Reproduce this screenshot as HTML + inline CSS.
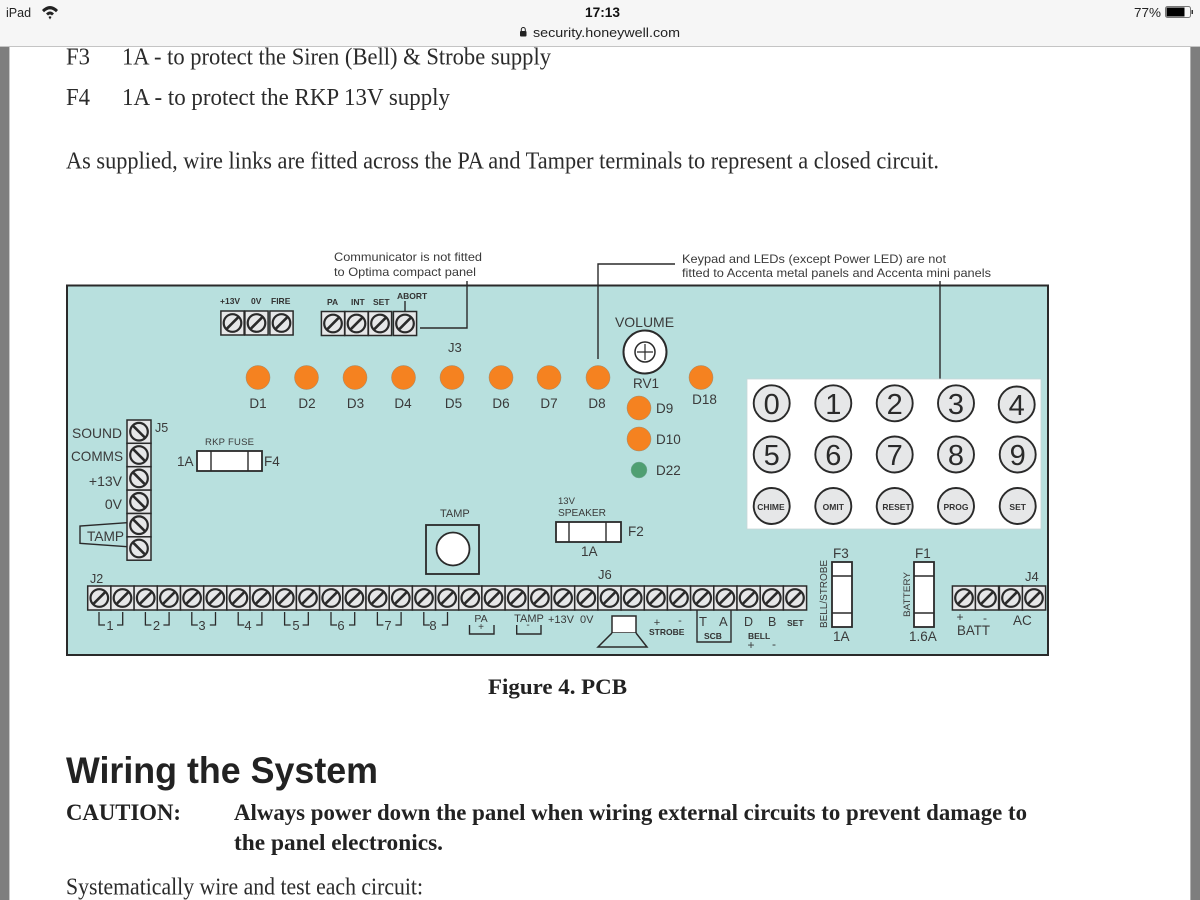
<!DOCTYPE html>
<html><head><meta charset="utf-8"><style>
html,body{margin:0;padding:0;background:#fff;width:1200px;height:900px;overflow:hidden}
svg{display:block}
text{font-family:"Liberation Sans",sans-serif;fill:#3a3a3a}
.s{font-family:"Liberation Serif",serif;fill:#2b2b2b;font-size:24px}
.b{font-family:"Liberation Serif",serif;fill:#222;font-size:23.5px;font-weight:bold}
.t{font-weight:bold;font-size:8.5px;fill:#333}
.k{font-size:29px;text-anchor:middle;fill:#2a2a2a}
.kb{font-size:8.5px;font-weight:bold;text-anchor:middle;fill:#333}
.m{text-anchor:middle}
.l{fill:none;stroke:#2a2a2a;stroke-width:1.4}
</style></head><body>
<svg width="1200" height="900" viewBox="0 0 1200 900" xmlns="http://www.w3.org/2000/svg">
<defs>
<g id="a"><rect x="-11.6" y="-12" width="23.2" height="24" fill="#e6e7e8" stroke="#2a2a2a" stroke-width="1.5"/><circle r="8.8" fill="#e6e7e8" stroke="#2a2a2a" stroke-width="2.2"/><line x1="-5.8" y1="5.8" x2="5.8" y2="-5.8" stroke="#2a2a2a" stroke-width="2.6"/></g>
<g id="c"><rect x="-12" y="-11.7" width="24" height="23.4" fill="#e6e7e8" stroke="#2a2a2a" stroke-width="1.5"/><circle r="8.8" fill="#e6e7e8" stroke="#2a2a2a" stroke-width="2.2"/><line x1="-5.8" y1="-5.8" x2="5.8" y2="5.8" stroke="#2a2a2a" stroke-width="2.6"/></g>
<circle id="o" r="12" fill="#f58220" stroke="#9a8a70" stroke-width=".5"/>
<circle id="key" r="18" fill="#e6e7e8" stroke="#2a2a2a" stroke-width="1.9"/>
<path id="br" d="M99 612V625H105M122.700 612V625H117" fill="none" stroke="#2a2a2a" stroke-width="1.300"/>
</defs>
<rect width="1200" height="900" fill="#fff"/>
<rect x="0" y="46" width="9" height="854" fill="#7e7e7e"/><rect x="9" y="46" width="1" height="854" fill="#c8c8c8"/>
<rect x="1191" y="46" width="9" height="854" fill="#7e7e7e"/><rect x="1190" y="46" width="1" height="854" fill="#b0b0b0"/>
<rect width="1200" height="46" fill="#f6f6f6"/><rect y="46" width="1200" height="1" fill="#c4c4c4"/>
<text x="6" y="17" font-size="12.500" style="fill:#222">iPad</text>
<path d="M42 10Q50 2 58 10L56 12.200Q50 6.500 44 12.200ZM46 13.500Q50 9.500 54 13.500L52 15.500Q50 13.500 48 15.500ZM50 19.500L48.500 17Q50 15.500 51.500 17Z" fill="#222"/>
<text x="585" y="17" font-size="13.500" font-weight="bold" textLength="35" lengthAdjust="spacingAndGlyphs" style="fill:#111">17:13</text>
<rect x="520" y="31" width="6.500" height="5.500" rx="1" fill="#222"/><path d="M521.300 31V29.500a2 2 0 0 1 4 0V31" fill="none" stroke="#222" stroke-width="1"/>
<text x="533" y="37" font-size="13" textLength="147" lengthAdjust="spacingAndGlyphs" style="fill:#222">security.honeywell.com</text>
<text x="1134" y="17" font-size="13" textLength="27" lengthAdjust="spacingAndGlyphs" style="fill:#222">77%</text>
<rect x="1165.500" y="6.500" width="25" height="11" rx="2" fill="none" stroke="#777"/><rect x="1166.500" y="7.500" width="18" height="9" fill="#000"/><rect x="1191.500" y="10" width="1.500" height="4" fill="#333"/>

<text class="s" x="66" y="64.500" textLength="24" lengthAdjust="spacingAndGlyphs">F3</text>
<text class="s" x="122" y="64.500" textLength="429" lengthAdjust="spacingAndGlyphs">1A - to protect the Siren (Bell) &amp; Strobe supply</text>
<text class="s" x="66" y="105" textLength="24" lengthAdjust="spacingAndGlyphs">F4</text>
<text class="s" x="122" y="105" textLength="328" lengthAdjust="spacingAndGlyphs">1A - to protect the RKP 13V supply</text>
<text class="s" x="66" y="168.500" textLength="873" lengthAdjust="spacingAndGlyphs">As supplied, wire links are fitted across the PA and Tamper terminals to represent a closed circuit.</text>

<text x="334" y="261" font-size="12" textLength="148" lengthAdjust="spacingAndGlyphs">Communicator is not fitted</text>
<text x="334" y="276" font-size="12" textLength="142" lengthAdjust="spacingAndGlyphs">to Optima compact panel</text>
<text x="682" y="263" font-size="12" textLength="264" lengthAdjust="spacingAndGlyphs">Keypad and LEDs (except Power LED) are not</text>
<text x="682" y="277" font-size="12" textLength="309" lengthAdjust="spacingAndGlyphs">fitted to Accenta metal panels and Accenta mini panels</text>

<rect x="67" y="285.500" width="981" height="369.500" fill="#b8e0de" stroke="#2a2a2a" stroke-width="2"/>

<path class="l" d="M467 281V328H420M675 264H598V359M940 281V383"/>
<path class="l" d="M405 301V312" stroke-width="1"/>

<text class="t" x="220" y="304">+13V</text><text class="t" x="251" y="304">0V</text><text class="t" x="271" y="304">FIRE</text>
<text class="t" x="327" y="305">PA</text><text class="t" x="351" y="305">INT</text><text class="t" x="373" y="305">SET</text><text class="t" x="397" y="299">ABORT</text>
<use href="#a" x="232.500" y="323"/><use href="#a" x="256.500" y="323"/><use href="#a" x="281.500" y="323"/>
<use href="#a" x="333" y="323.500"/><use href="#a" x="356.500" y="323.500"/><use href="#a" x="380" y="323.500"/><use href="#a" x="405" y="323.500"/>

<text x="448" y="352" font-size="13">J3</text>
<use href="#o" x="258" y="377.500"/><use href="#o" x="306.500" y="377.500"/><use href="#o" x="355" y="377.500"/><use href="#o" x="403.500" y="377.500"/><use href="#o" x="452" y="377.500"/><use href="#o" x="501" y="377.500"/><use href="#o" x="549" y="377.500"/><use href="#o" x="598" y="377.500"/><use href="#o" x="701" y="377.500"/>
<use href="#o" x="639" y="408"/><use href="#o" x="639" y="439"/>
<circle cx="639" cy="470" r="8" fill="#4f9f72" stroke="#7a9" stroke-width=".5"/>
<g font-size="13.500">
<text class="m" x="258" y="408">D1</text><text class="m" x="307" y="408">D2</text><text class="m" x="355.500" y="408">D3</text><text class="m" x="403" y="408">D4</text><text class="m" x="453.500" y="408">D5</text><text class="m" x="501" y="408">D6</text><text class="m" x="549" y="408">D7</text><text class="m" x="597" y="408">D8</text><text class="m" x="704.500" y="404">D18</text>
<text x="656" y="413">D9</text><text x="656" y="444">D10</text><text x="656" y="475">D22</text>
</g>
<text class="m" x="644.500" y="327" font-size="14">VOLUME</text>
<text class="m" x="646" y="388" font-size="13.500">RV1</text>
<circle cx="645" cy="352" r="21.500" fill="#fff" stroke="#2a2a2a" stroke-width="2"/>
<circle cx="645" cy="352" r="10" fill="none" stroke="#2a2a2a" stroke-width="1.500"/>
<path d="M645 344V360M637 352H653" stroke="#2a2a2a" stroke-width="1.200"/>

<rect x="747" y="379" width="294" height="150" fill="#fff" stroke="#c8d8d8" stroke-width=".8"/>
<use href="#key" x="771.700" y="403.300"/><use href="#key" x="833.300" y="403.300"/><use href="#key" x="894.700" y="403.300"/><use href="#key" x="956" y="403.300"/><use href="#key" x="1016.700" y="404.500"/>
<use href="#key" x="771.700" y="454.500"/><use href="#key" x="833.300" y="454.500"/><use href="#key" x="894.700" y="454.500"/><use href="#key" x="956" y="454.500"/><use href="#key" x="1017.700" y="454.500"/>
<use href="#key" x="771.700" y="506"/><use href="#key" x="833.300" y="506"/><use href="#key" x="894.700" y="506"/><use href="#key" x="956" y="506"/><use href="#key" x="1017.700" y="506"/>
<text class="k" x="771.700" y="414">0</text><text class="k" x="833.300" y="414">1</text><text class="k" x="894.700" y="414">2</text><text class="k" x="956" y="414">3</text><text class="k" x="1016.700" y="415">4</text>
<text class="k" x="771.700" y="465">5</text><text class="k" x="833.300" y="465">6</text><text class="k" x="894.700" y="465">7</text><text class="k" x="956" y="465">8</text><text class="k" x="1017.700" y="465">9</text>
<text class="kb" x="771" y="510">CHIME</text><text class="kb" x="833.300" y="510">OMIT</text><text class="kb" x="896.500" y="510">RESET</text><text class="kb" x="956" y="510">PROG</text><text class="kb" x="1017.700" y="510">SET</text>

<use href="#c" x="139" y="431.700"/><use href="#c" x="139" y="455"/><use href="#c" x="139" y="478.400"/><use href="#c" x="139" y="501.800"/><use href="#c" x="139" y="525.200"/><use href="#c" x="139" y="548.500"/>
<g font-size="14" text-anchor="end">
<text x="122" y="438" textLength="50" lengthAdjust="spacingAndGlyphs">SOUND</text><text x="123" y="461" textLength="52" lengthAdjust="spacingAndGlyphs">COMMS</text><text x="122" y="486">+13V</text><text x="122" y="509">0V</text>
</g>
<path class="l" d="M127 522.700L80 526V543.300L127 546.700"/>
<text x="87" y="541" font-size="14" textLength="37" lengthAdjust="spacingAndGlyphs">TAMP</text>
<text x="155" y="432" font-size="12.500">J5</text>

<text x="205" y="445" font-size="9.500" textLength="49">RKP FUSE</text>
<text x="177" y="466" font-size="13.500">1A</text><text x="264" y="466" font-size="13.500">F4</text>
<rect x="197" y="451" width="65" height="20" fill="#fff" stroke="#2a2a2a" stroke-width="1.800"/><path class="l" d="M211 451V471M248 451V471"/>

<text x="440" y="517" font-size="11">TAMP</text>
<rect x="426" y="525" width="53" height="49" fill="#b8e0de" stroke="#2a2a2a" stroke-width="1.800"/>
<circle cx="453" cy="549" r="16.500" fill="#fff" stroke="#2a2a2a" stroke-width="1.800"/>

<text x="558" y="504" font-size="9.500">13V</text><text x="558" y="516" font-size="10.500" textLength="48" lengthAdjust="spacingAndGlyphs">SPEAKER</text>
<rect x="556" y="522" width="65" height="20" fill="#fff" stroke="#2a2a2a" stroke-width="1.800"/><path class="l" d="M569 522V542M606 522V542"/>
<text x="628" y="536" font-size="13.500">F2</text><text x="581" y="556" font-size="13.500">1A</text>

<text x="90" y="583" font-size="12.500">J2</text><text x="598" y="579" font-size="13">J6</text>
<use href="#a" x="99.300" y="598"/><use href="#a" x="122.500" y="598"/><use href="#a" x="145.700" y="598"/><use href="#a" x="168.900" y="598"/><use href="#a" x="192.100" y="598"/><use href="#a" x="215.300" y="598"/><use href="#a" x="238.400" y="598"/><use href="#a" x="261.600" y="598"/><use href="#a" x="284.800" y="598"/><use href="#a" x="308" y="598"/><use href="#a" x="331.200" y="598"/><use href="#a" x="354.400" y="598"/><use href="#a" x="377.600" y="598"/><use href="#a" x="400.800" y="598"/><use href="#a" x="424" y="598"/><use href="#a" x="447.200" y="598"/><use href="#a" x="470.300" y="598"/><use href="#a" x="493.500" y="598"/><use href="#a" x="516.700" y="598"/><use href="#a" x="539.900" y="598"/><use href="#a" x="563.100" y="598"/><use href="#a" x="586.300" y="598"/><use href="#a" x="609.500" y="598"/><use href="#a" x="632.700" y="598"/><use href="#a" x="655.900" y="598"/><use href="#a" x="679" y="598"/><use href="#a" x="702.200" y="598"/><use href="#a" x="725.400" y="598"/><use href="#a" x="748.600" y="598"/><use href="#a" x="771.800" y="598"/><use href="#a" x="795" y="598"/>

<use href="#br"/><use href="#br" x="46.400"/><use href="#br" x="92.800"/><use href="#br" x="139.200"/><use href="#br" x="185.600"/><use href="#br" x="232"/><use href="#br" x="278.400"/><use href="#br" x="324.800"/>
<g font-size="13" text-anchor="middle">
<text x="110" y="630">1</text><text x="156.500" y="630">2</text><text x="202" y="630">3</text><text x="248" y="630">4</text><text x="296" y="630">5</text><text x="341" y="630">6</text><text x="388" y="630">7</text><text x="433" y="630">8</text>
</g>
<text class="m" x="481" y="622" font-size="10.500">PA</text><text class="m" x="481" y="630" font-size="10">+</text>
<path class="l" d="M469.500 625V634H494V625M516.700 625V634H541V625"/>
<text class="m" x="529" y="622" font-size="11">TAMP</text><text class="m" x="528" y="628" font-size="10">-</text>
<text x="548" y="623" font-size="11">+13V</text><text x="580" y="623" font-size="11">0V</text>

<rect x="612" y="616" width="24" height="17" fill="#fff" stroke="#2a2a2a" stroke-width="1.500"/>
<path d="M612 633L598 647H647L636 633" fill="#b8e0de" stroke="#2a2a2a" stroke-width="1.500"/>

<text class="m" x="657" y="626" font-size="11">+</text><text class="m" x="680" y="624" font-size="11">-</text>
<text class="t" x="649" y="635">STROBE</text>
<path class="l" d="M697 610V642H731V610"/>
<text x="699" y="626" font-size="13">T</text><text x="719" y="626" font-size="13">A</text>
<text class="t" x="704" y="639">SCB</text>
<text x="744" y="626" font-size="12.500">D</text><text x="768" y="626" font-size="12.500">B</text>
<text class="t" x="787" y="626">SET</text>
<text class="t" x="748" y="639">BELL</text>
<text class="m" x="751" y="649" font-size="12">+</text><text class="m" x="774" y="648" font-size="12">-</text>

<text transform="translate(827 628) rotate(-90)" font-size="10.500" textLength="68" lengthAdjust="spacingAndGlyphs">BELL/STROBE</text>
<rect x="832" y="562" width="20" height="65" fill="#fff" stroke="#2a2a2a" stroke-width="1.800"/><path class="l" d="M832 576H852M832 613H852"/>
<text x="833" y="558" font-size="13.500">F3</text><text x="833" y="641" font-size="13.500">1A</text>
<text transform="translate(910 617) rotate(-90)" font-size="9.500" textLength="45" lengthAdjust="spacingAndGlyphs">BATTERY</text>
<rect x="914" y="562" width="20" height="65" fill="#fff" stroke="#2a2a2a" stroke-width="1.800"/><path class="l" d="M914 576H934M914 613H934"/>
<text x="915" y="558" font-size="13.500">F1</text><text x="909" y="641" font-size="13.500">1.6A</text>

<use href="#a" x="964" y="598"/><use href="#a" x="987" y="598"/><use href="#a" x="1011" y="598"/><use href="#a" x="1034" y="598"/>
<text x="1025" y="581" font-size="13">J4</text>
<text class="m" x="960" y="621" font-size="12">+</text><text class="m" x="985" y="622" font-size="12">-</text>
<text x="957" y="635" font-size="14" textLength="33" lengthAdjust="spacingAndGlyphs">BATT</text>
<text x="1013" y="625" font-size="13.500">AC</text>

<text class="b" x="488" y="694" textLength="139" lengthAdjust="spacingAndGlyphs" style="font-size:22px">Figure 4. PCB</text>
<text x="66" y="783" font-size="37" font-weight="bold" textLength="312" lengthAdjust="spacingAndGlyphs" style="fill:#222">Wiring the System</text>
<text class="b" x="66" y="820" textLength="115" lengthAdjust="spacingAndGlyphs">CAUTION:</text>
<text class="b" x="234" y="820" textLength="793" lengthAdjust="spacingAndGlyphs">Always power down the panel when wiring external circuits to prevent damage to</text>
<text class="b" x="234" y="850" textLength="209" lengthAdjust="spacingAndGlyphs">the panel electronics.</text>
<text class="s" x="66" y="894.500" textLength="357" lengthAdjust="spacingAndGlyphs">Systematically wire and test each circuit:</text>
</svg>
</body></html>
